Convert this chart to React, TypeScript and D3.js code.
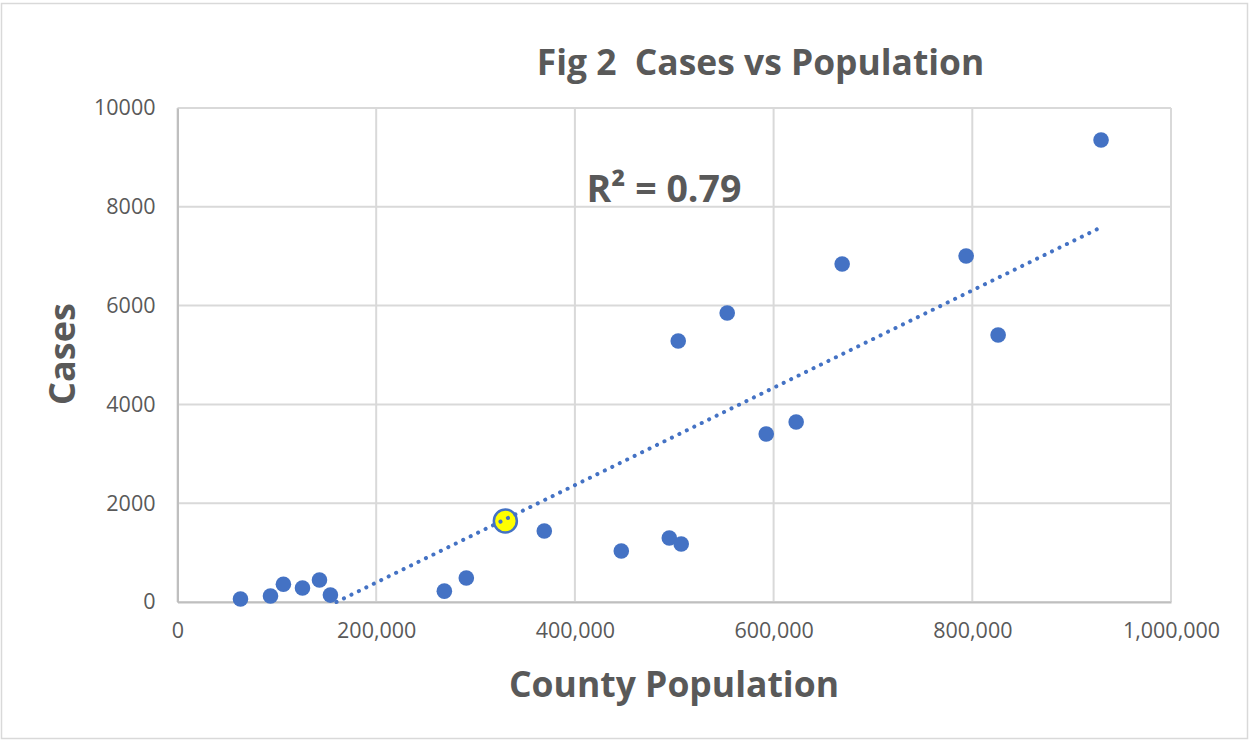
import React, { useEffect, useRef } from 'react';
import * as d3 from 'd3';

const population = [63400, 93600, 106600, 125800, 142900, 153900, 268600, 290700, 369200, 446700, 495000, 507000, 504000, 553300, 592600, 622700, 669000, 793800, 826000, 929600];
const cases = [60, 120, 360, 283, 445, 140, 220, 485, 1437, 1032, 1295, 1174, 5283, 5850, 3400, 3643, 6842, 7004, 5405, 9352];
const highlightPoint = [330000, 1640];
const trendPopulation = [160000, 926000];
const trendCases = [0, 7550];
const xTicks = [0, 200000, 400000, 600000, 800000, 1000000];
const yTicks = [0, 2000, 4000, 6000, 8000, 10000];

const WIDTH = 1249;
const HEIGHT = 740;
const FONT = '"Open Sans", sans-serif';
const BLUE = '#4472C4';
const GRID = '#D9D9D9';
const TEXT = '#595959';

export default function App() {
  const svgRef = useRef<SVGSVGElement>(null);

  useEffect(() => {
    const svg = d3.select(svgRef.current);
    svg.selectAll('*').remove();

    const x = d3.scaleLinear().domain([0, 1000000]).range([177.5, 1171]);
    const y = d3.scaleLinear().domain([0, 10000]).range([602, 108]);

    // Outer chart frame
    svg.append('rect').attr('x', 1.5).attr('y', 3.5).attr('width', 1246).attr('height', 735)
      .attr('fill', '#fff').attr('stroke', GRID).attr('stroke-width', 1.5);

    // Grid
    svg.append('g').selectAll('line').data(yTicks).join('line')
      .attr('x1', x(0)).attr('x2', x(1000000)).attr('y1', d => y(d)).attr('y2', d => y(d))
      .attr('stroke', GRID).attr('stroke-width', 2);
    svg.append('g').selectAll('line').data(xTicks).join('line')
      .attr('x1', d => x(d)).attr('x2', d => x(d)).attr('y1', y(0)).attr('y2', y(10000))
      .attr('stroke', GRID).attr('stroke-width', 2);

    // Axes
    const xAxis = svg.append('g').attr('transform', `translate(0,${y(0)})`)
      .call(d3.axisBottom(x).tickValues(xTicks).tickSize(0).tickPadding(21).tickFormat(d3.format(',') as any));
    const yAxis = svg.append('g').attr('transform', `translate(${x(0)},0)`)
      .call(d3.axisLeft(y).tickValues(yTicks).tickSize(0).tickPadding(22).tickFormat(d3.format('d') as any));
    [xAxis, yAxis].forEach(a => {
      a.select('.domain').attr('stroke', '#BFBFBF').attr('stroke-width', 2);
      a.selectAll('text').attr('fill', TEXT).attr('font-family', FONT).attr('font-size', 21.5);
    });

    // Highlighted county
    svg.append('circle').attr('cx', x(highlightPoint[0])).attr('cy', y(highlightPoint[1])).attr('r', 11.5)
      .attr('fill', '#FFFF00').attr('stroke', BLUE).attr('stroke-width', 2.5);

    // Points
    svg.append('g').selectAll('circle').data(population).join('circle')
      .attr('cx', d => x(d)).attr('cy', (d, i) => y(cases[i])).attr('r', 7.8).attr('fill', BLUE);

    // Trendline
    const line = d3.line<number>().x(d => x(d)).y((d, i) => y(trendCases[i]));
    svg.append('path').attr('d', line(trendPopulation)).attr('fill', 'none').attr('stroke', BLUE)
      .attr('stroke-width', 4).attr('stroke-linecap', 'round').attr('stroke-dasharray', '0.1 8.2');

    // Labels
    const label = (txt: string, px: number, py: number, size: number, rotate = false) => {
      const t = svg.append('text').attr('text-anchor', 'middle').attr('font-family', FONT)
        .attr('font-weight', 700).attr('font-size', size).attr('fill', TEXT)
        .style('white-space', 'pre').text(txt);
      if (rotate) t.attr('transform', `translate(${px},${py}) rotate(-90)`);
      else t.attr('x', px).attr('y', py);
    };
    label('Fig 2  Cases vs Population', 760.5, 75, 35.4);
    label('R² = 0.79', 664, 202, 37.5);
    label('County Population', 674, 697, 35.5);
    label('Cases', 75, 354, 36, true);
  }, []);

  return <svg ref={svgRef} width={WIDTH} height={HEIGHT} style={{ position: 'absolute', left: 0, top: 0, display: 'block' }} />;
}
